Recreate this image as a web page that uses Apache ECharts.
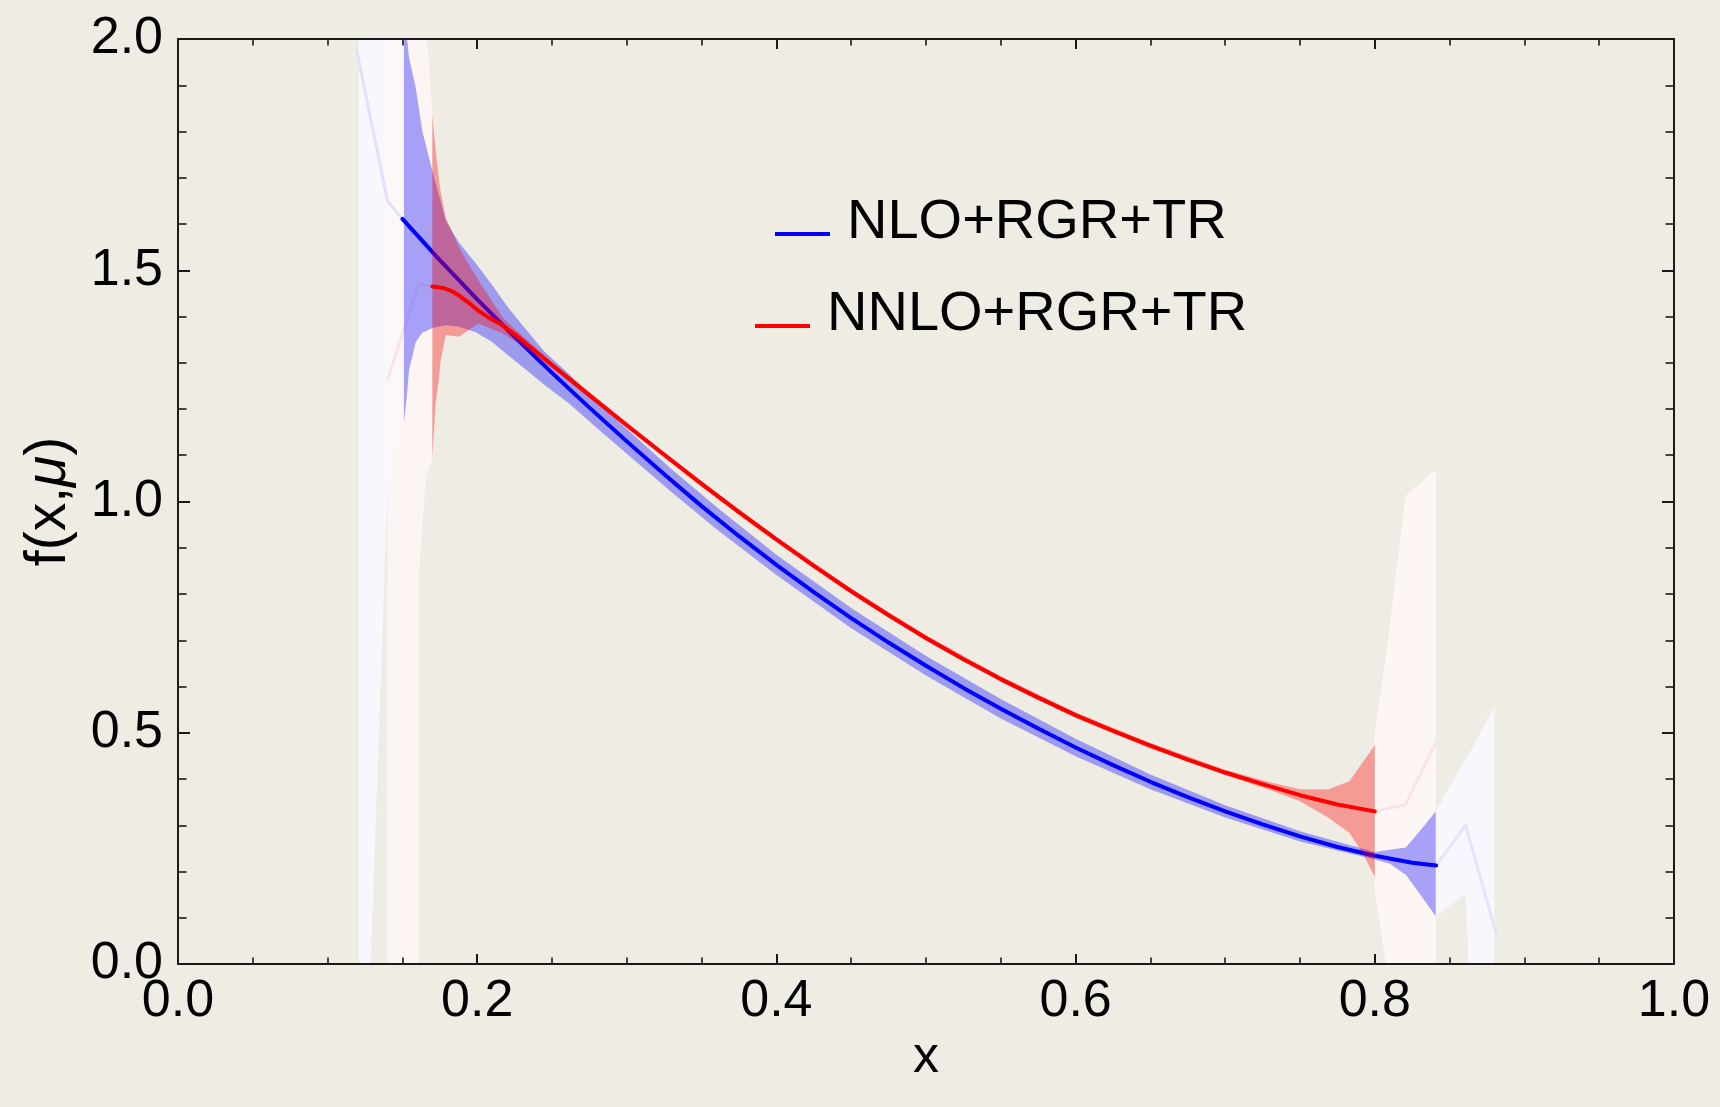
<!DOCTYPE html>
<html>
<head>
<meta charset="utf-8">
<script src="https://cdn.jsdelivr.net/npm/echarts@6.0.0/dist/echarts.min.js"></script>
<style>
html,body{margin:0;padding:0;background:#EFECE4;}
#chart{width:1720px;height:1107px;}
</style>
</head>
<body>
<div id="chart"></div>
<script>
// ---------- data ----------
const xTickLabels = ['0.0', '0.2', '0.4', '0.6', '0.8', '1.0'];
const yTickLabels = ['0.0', '0.5', '1.0', '1.5', '2.0'];
const seriesNames = ['NLO+RGR+TR', 'NNLO+RGR+TR'];

// NLO+RGR+TR central curve
const nloX = [0.150, 0.175, 0.200, 0.225, 0.250, 0.275, 0.300, 0.325, 0.350, 0.375, 0.400, 0.425, 0.450, 0.475, 0.500, 0.525, 0.550, 0.575, 0.600, 0.625, 0.650, 0.675, 0.700, 0.725, 0.750, 0.775, 0.800, 0.825, 0.841];
const nloY = [1.611, 1.522, 1.437, 1.356, 1.278, 1.203, 1.130, 1.059, 0.990, 0.925, 0.863, 0.804, 0.748, 0.695, 0.645, 0.597, 0.552, 0.509, 0.468, 0.430, 0.394, 0.361, 0.330, 0.302, 0.276, 0.253, 0.234, 0.219, 0.213];

// NNLO+RGR+TR central curve
const nnloX = [0.170, 0.178, 0.183, 0.188, 0.195, 0.201, 0.208, 0.215, 0.225, 0.250, 0.275, 0.300, 0.325, 0.350, 0.375, 0.400, 0.425, 0.450, 0.475, 0.500, 0.525, 0.550, 0.575, 0.600, 0.625, 0.650, 0.675, 0.700, 0.725, 0.750, 0.775, 0.800];
const nnloY = [1.465, 1.461, 1.455, 1.445, 1.428, 1.412, 1.397, 1.385, 1.362, 1.295, 1.230, 1.165, 1.101, 1.038, 0.977, 0.918, 0.861, 0.806, 0.754, 0.705, 0.659, 0.616, 0.576, 0.538, 0.504, 0.472, 0.442, 0.414, 0.389, 0.365, 0.345, 0.330];

// NLO uncertainty band
const nloBandX  = [0.151, 0.1533, 0.1544, 0.1589, 0.1633, 0.170, 0.179, 0.1878, 0.199, 0.210, 0.220, 0.230, 0.245, 0.261, 0.280, 0.300, 0.330, 0.360, 0.400, 0.450, 0.500, 0.550, 0.600, 0.650, 0.700, 0.750, 0.800, 0.810, 0.8207, 0.830, 0.8407];
const nloBandLo = [1.170, 1.240, 1.284, 1.345, 1.365, 1.375, 1.381, 1.378, 1.366, 1.345, 1.318, 1.292, 1.252, 1.213, 1.159, 1.103, 1.020, 0.940, 0.841, 0.726, 0.624, 0.531, 0.449, 0.378, 0.317, 0.265, 0.226, 0.217, 0.193, 0.152, 0.1035];
const nloBandHi = [2.100, 1.996, 1.960, 1.895, 1.801, 1.715, 1.607, 1.560, 1.515, 1.468, 1.422, 1.382, 1.324, 1.277, 1.217, 1.157, 1.070, 0.988, 0.885, 0.770, 0.666, 0.573, 0.487, 0.410, 0.343, 0.287, 0.242, 0.247, 0.252, 0.287, 0.330];

// NNLO uncertainty band
const nnloBandX  = [0.170, 0.1722, 0.1745, 0.1756, 0.179, 0.1878, 0.2008, 0.2178, 0.230, 0.250, 0.275, 0.300, 0.325, 0.350, 0.375, 0.400, 0.450, 0.500, 0.550, 0.600, 0.650, 0.700, 0.730, 0.750, 0.769, 0.783, 0.7917, 0.800];
const nnloBandLo = [1.093, 1.212, 1.270, 1.305, 1.360, 1.356, 1.385, 1.362, 1.337, 1.288, 1.224, 1.159, 1.095, 1.032, 0.971, 0.912, 0.800, 0.699, 0.610, 0.532, 0.466, 0.408, 0.376, 0.352, 0.316, 0.284, 0.241, 0.188];
const nnloBandHi = [1.837, 1.760, 1.694, 1.670, 1.614, 1.550, 1.478, 1.395, 1.359, 1.302, 1.236, 1.171, 1.107, 1.044, 0.983, 0.924, 0.812, 0.711, 0.622, 0.544, 0.478, 0.420, 0.393, 0.378, 0.378, 0.395, 0.435, 0.473];

// faint extrapolation regions
const nloFaintLeftX  = [0.121, 0.1288, 0.140, 0.151];
const nloFaintLeftLo = [-1.0, 0.0, 1.02, 1.17];
const nloFaintLeftHi = [3.0, 3.0, 3.0, 2.1];
const nnloFaintLeftX  = [0.140, 0.1609, 0.161, 0.1655, 0.1665, 0.170];
const nnloFaintLeftLo = [-1.0, -1.0, 0.84, 1.046, 1.06, 1.093];
const nnloFaintLeftHi = [3.0, 3.0, 3.0, 2.05, 2.0, 1.837];
const nnloFaintRightX  = [0.800, 0.8073, 0.8207, 0.824, 0.8407];
const nnloFaintRightLo = [0.16, 0.0, -0.3, -0.4, -0.6];
const nnloFaintRightHi = [0.501, 0.661, 1.014, 1.021, 1.069];
const nloFaintRightX  = [0.8407, 0.8607, 0.864, 0.880];
const nloFaintRightLo = [0.1035, 0.152, -0.1, -1.0];
const nloFaintRightHi = [0.330, 0.445, 0.46, 0.557];

// faint extrapolated curves
const nloFaintLineLeftX  = [0.1195, 0.140, 0.150];
const nloFaintLineLeftY  = [1.975, 1.650, 1.611];
const nnloFaintLineLeftX = [0.140, 0.161, 0.170];
const nnloFaintLineLeftY = [1.262, 1.471, 1.465];
const nnloFaintLineRightX = [0.800, 0.8207, 0.8407];
const nnloFaintLineRightY = [0.330, 0.345, 0.479];
const nloFaintLineRightX  = [0.841, 0.8607, 0.8817];
const nloFaintLineRightY  = [0.213, 0.300, 0.059];

// ---------- helpers ----------
const FONT = "'Liberation Sans', Arial, sans-serif";
const INK = '#1a1a1a';
// legend line icon, drawn in the lower part of a taller icon box (tiny anchor dot keeps the box)
const LEGEND_ICON = 'path://M0,0L0.01,0L0.01,0.01L0,0.01Z M0,22L55,22L55,26L0,26Z';

function pairs(xs, ys) { return xs.map((x, i) => [x, ys[i]]); }

function clipPoly(poly, r) {
  const x0 = r.x, x1 = r.x + r.width, y0 = r.y, y1 = r.y + r.height;
  const planes = [[0, x0, 1], [0, x1, -1], [1, y0, 1], [1, y1, -1]];
  let out = poly;
  for (const [ax, v, s] of planes) {
    const inp = out; out = [];
    if (!inp.length) break;
    for (let i = 0; i < inp.length; i++) {
      const a = inp[i], b = inp[(i + 1) % inp.length];
      const ia = s * (a[ax] - v) >= 0, ib = s * (b[ax] - v) >= 0;
      if (ia) out.push(a);
      if (ia !== ib) {
        const t = (v - a[ax]) / (b[ax] - a[ax]);
        out.push([a[0] + t * (b[0] - a[0]), a[1] + t * (b[1] - a[1])]);
      }
    }
  }
  return out;
}

function band(xs, lo, hi, color, z) {
  return {
    type: 'custom', coordinateSystem: 'cartesian2d', xAxisIndex: 0, yAxisIndex: 0,
    silent: true, z: z,
    data: xs.map((x, i) => [x, lo[i], hi[i]]),
    encode: { x: 0, y: [1, 2] },
    renderItem: function (params, api) {
      if (params.dataIndexInside !== 0) return null;
      const pts = [];
      for (let i = 0; i < xs.length; i++) pts.push(api.coord([xs[i], hi[i]]));
      for (let i = xs.length - 1; i >= 0; i--) pts.push(api.coord([xs[i], lo[i]]));
      return { type: 'polygon', shape: { points: clipPoly(pts, params.coordSys) }, style: { fill: color } };
    }
  };
}

function curve(name, xs, ys, color, width, z) {
  return {
    type: 'line', name: name, xAxisIndex: 0, yAxisIndex: 0,
    data: pairs(xs, ys), symbol: 'none', showSymbol: false, silent: true,
    smooth: false, clip: true, z: z,
    lineStyle: { color: color, width: width, join: 'round', cap: 'round' }, itemStyle: { color: color },
    emphasis: { disabled: true }
  };
}

const labelStyle = { color: '#000', fontFamily: FONT, fontSize: 52 };

function xAxisDef(pos, labels) {
  return {
    type: 'value', min: 0, max: 1, interval: 0.2, position: pos, z: 20,
    axisLine: { show: true, onZero: false, lineStyle: { color: INK, width: 2 } },
    axisTick: { show: true, inside: true, length: 10, lineStyle: { color: INK, width: 2 } },
    minorTick: { show: true, splitNumber: 4, length: 6.5, lineStyle: { color: INK, width: 1.6 } },
    splitLine: { show: false }, minorSplitLine: { show: false },
    axisLabel: labels ? Object.assign({
      show: true, margin: 12, showMinLabel: true, showMaxLabel: true, hideOverlap: false,
      formatter: v => xTickLabels[Math.round(v / 0.2)]
    }, labelStyle) : { show: false },
    name: labels ? 'x' : '', nameLocation: 'middle', nameGap: 68, nameMoveOverlap: false,
    nameTextStyle: { color: '#000', fontFamily: FONT, fontSize: 52 }
  };
}
function yAxisDef(pos, labels) {
  return {
    type: 'value', min: 0, max: 2, interval: 0.5, position: pos, z: 20,
    axisLine: { show: true, onZero: false, lineStyle: { color: INK, width: 2 } },
    axisTick: { show: true, inside: true, length: 12, lineStyle: { color: INK, width: 2 } },
    minorTick: { show: true, splitNumber: 5, length: 8.5, lineStyle: { color: INK, width: 1.6 } },
    splitLine: { show: false }, minorSplitLine: { show: false },
    axisLabel: labels ? Object.assign({
      show: true, margin: 15, showMinLabel: true, showMaxLabel: true, hideOverlap: false,
      formatter: v => yTickLabels[Math.round(v / 0.5)]
    }, labelStyle) : { show: false },
    name: labels ? 'f(x,{i|μ})' : '', nameLocation: 'middle', nameGap: 100, nameRotate: 90, nameMoveOverlap: false,
    nameTextStyle: { color: '#000', fontFamily: FONT, fontSize: 57,
      rich: { i: { fontStyle: 'italic', fontFamily: FONT, fontSize: 57, color: '#000' } } }
  };
}

function legendDef(name, left, top) {
  return {
    show: true, data: [{ name: name, icon: LEGEND_ICON }], left: left, top: top, padding: 0, z: 30,
    orient: 'horizontal', itemWidth: 55, itemHeight: 26, symbolKeepAspect: false, selectedMode: false,
    itemStyle: { borderWidth: 0 },
    textStyle: { color: '#000', fontFamily: FONT, fontSize: 56, lineHeight: 56, padding: [0, 0, 0, 12] }
  };
}

const chart = echarts.init(document.getElementById('chart'), null, { renderer: 'canvas' });
chart.setOption({
  backgroundColor: '#EFECE4',
  animation: false,
  grid: { left: 178, right: 46, top: 39, bottom: 143, outerBoundsMode: 'none', containLabel: false },
  xAxis: [xAxisDef('bottom', true), xAxisDef('top', false)],
  yAxis: [yAxisDef('left', true), yAxisDef('right', false)],
  legend: [legendDef(seriesNames[0], 775, 195), legendDef(seriesNames[1], 755, 287)],
  tooltip: { show: false },
  series: [
    band(nloFaintLeftX, nloFaintLeftLo, nloFaintLeftHi, 'rgba(247,247,255,0.92)', 2),
    band(nnloFaintLeftX, nnloFaintLeftLo, nnloFaintLeftHi, 'rgba(255,246,246,0.82)', 2),
    band(nnloFaintRightX, nnloFaintRightLo, nnloFaintRightHi, 'rgba(255,246,246,0.9)', 2),
    band(nloFaintRightX, nloFaintRightLo, nloFaintRightHi, 'rgba(247,247,255,0.92)', 2),
    curve('nloFaintL', nloFaintLineLeftX, nloFaintLineLeftY, 'rgba(225,225,252,1)', 3, 3),
    curve('nnloFaintL', nnloFaintLineLeftX, nnloFaintLineLeftY, 'rgba(250,228,232,1)', 3, 3),
    curve('nnloFaintR', nnloFaintLineRightX, nnloFaintLineRightY, 'rgba(252,228,228,1)', 3, 3),
    curve('nloFaintR', nloFaintLineRightX, nloFaintLineRightY, 'rgba(228,228,252,1)', 3, 3),
    band(nloBandX, nloBandLo, nloBandHi, 'rgba(0,0,255,0.34)', 4),
    curve(seriesNames[0], nloX, nloY, '#0000FF', 4, 5),
    band(nnloBandX, nnloBandLo, nnloBandHi, 'rgba(255,0,0,0.34)', 6),
    curve(seriesNames[1], nnloX, nnloY, '#FF0000', 4, 7)
  ]
});
</script>
</body>
</html>
